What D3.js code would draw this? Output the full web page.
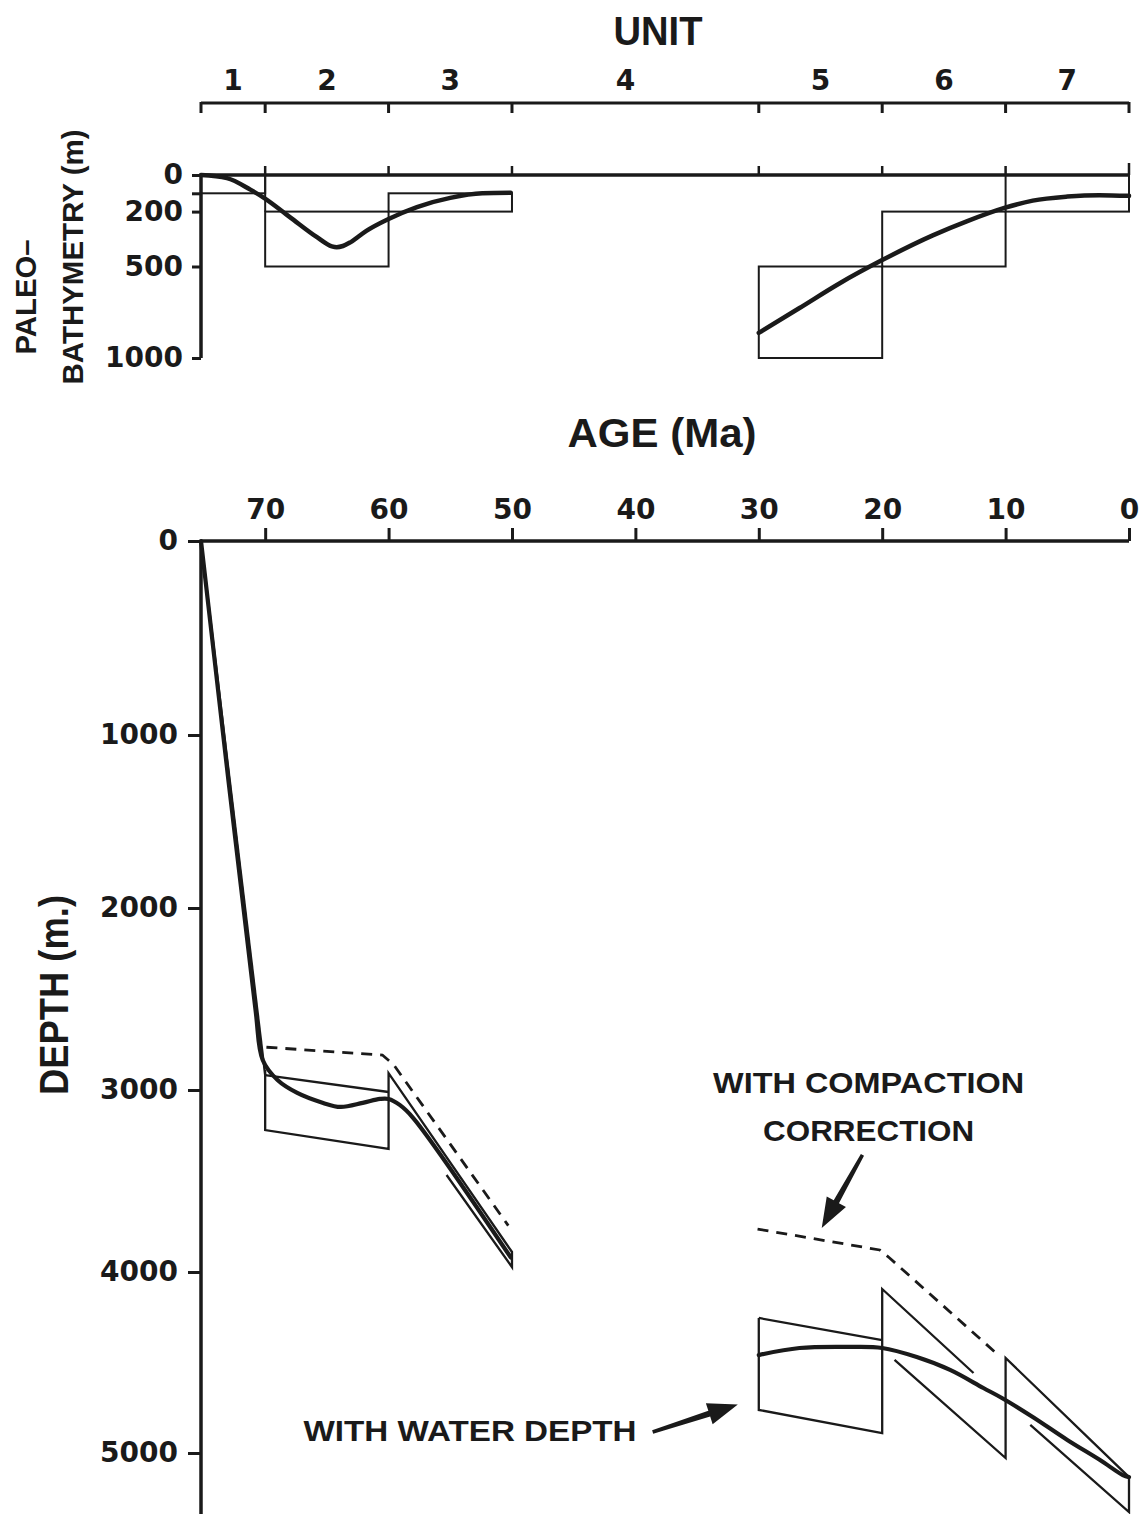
<!DOCTYPE html>
<html><head><meta charset="utf-8">
<script src="https://cdn.jsdelivr.net/npm/d3@7"></script>
<style>body{margin:0;background:#fff}</style>
</head><body>
<script>
// ---------------- data ----------------
const unitNames = ["1","2","3","4","5","6","7"];
const unitBoundaryAges = [75.2, 70, 60, 50, 30, 20, 10, 0];
const unitLabelAges = [72.6, 65, 55, 40.8, 25, 15, 5];
const unitBathyShallow = [0, 200, 100, null, 500, 200, 0];
const unitBathyDeep = [100, 500, 200, null, 1000, 500, 200];
const bathyTicks = [0, 100, 200, 500, 1000];
const bathyTickLabels = ["0", "", "200", "500", "1000"];
const bathyCurveA = [[75.2,0],[73.1,17],[71.2,80],[70.1,125],[68,230],[65.8,340],[64.6,390],[64.2,395],[63.7,388],[63.1,368],[61.8,305],[60,240],[57.7,175],[55,125],[52.4,100],[50.1,97]];
const bathyCurveB = [[30,863],[26.7,727],[23.4,590],[20,465],[15.9,330],[13.1,252],[10.1,180],[7.8,140],[5,118],[2.4,110],[0,114]];

const ageTicks = [70, 60, 50, 40, 30, 20, 10, 0];
const depthTicks = [0, 1000, 2000, 3000, 4000, 5000];

const waterDepthA = [[75.2,0],[70.8,2549],[70.2,2835],[69,2945],[67.4,3016],[65.3,3071],[63.9,3093],[62.1,3071],[60.7,3049],[60,3049],[59.1,3082],[58,3154],[50.1,3920]];
const waterDepthB = [[30,4459],[26.7,4420],[22.6,4414],[20,4420],[17.2,4470],[14.5,4541],[11.8,4641],[10.3,4696],[7.8,4801],[5,4928],[2.35,5039],[0.5,5122],[0,5133]];
const compactionA = [[69.9,2765],[60.5,2808],[59.6,2860],[50.3,3745]];
const compactionB = [[30.1,3764],[20.2,3879],[19.4,3923],[10.9,4440]];
const envelopeLines = [
  [[75.2,0],[70,2918]],
  [[70,2890],[70,3220],[60,3324],[60,2907],[50,3890],[50,3973],[55.3,3467]],
  [[70,2918],[60,3011]],
  [[30,4254],[30,4762],[20,4890],[20,4094],[12.6,4558]],
  [[30,4254],[20,4376]],
  [[19,4486],[10,5028],[10,4475],[0,5133],[0,5326],[8,4845]]
];
const annotations = [
  {text:"WITH COMPACTION", age:21.1, depth:2956, len:311},
  {text:"CORRECTION", age:21.1, depth:3220, len:211},
  {text:"WITH WATER DEPTH", age:53.4, depth:4873, len:333}
];
const arrows = [
  {from:[21.6,3357], to:[24.9,3758]},
  {from:[38.6,4884], to:[31.7,4732]}
];

// ---------------- drawing ----------------
const W = 1147, H = 1514;
const svg = d3.select("body").append("svg").attr("width", W).attr("height", H)
  .style("font-family", "'DejaVu Sans', sans-serif");

const x = d3.scaleLinear().domain([75.2, 0]).range([201, 1129]);
const yTop = d3.scaleLinear().domain([0, 1000]).range([175, 358]);
const y = d3.scaleLinear().domain(depthTicks).range([541, 735, 908, 1090, 1272, 1453]);

const ink = "#1a1a1a";
const tickFont = 28;

// ---- Top panel: unit axis ----
const gUnit = svg.append("g");
gUnit.append("line").attr("x1", x(75.2)).attr("x2", x(0)).attr("y1", 103).attr("y2", 103)
  .attr("stroke", ink).attr("stroke-width", 3);
gUnit.selectAll("line.ut").data(unitBoundaryAges).join("line").attr("class","ut")
  .attr("x1", d => x(d)).attr("x2", d => x(d)).attr("y1", 102).attr("y2", 113)
  .attr("stroke", ink).attr("stroke-width", 3);
gUnit.selectAll("text").data(unitNames).join("text")
  .attr("x", (d, i) => x(unitLabelAges[i])).attr("y", 90)
  .attr("text-anchor", "middle").attr("font-size", tickFont).attr("font-weight", "bold")
  .attr("fill", ink).text(d => d);

svg.append("text").attr("x", 658).attr("y", 45).attr("text-anchor", "middle")
  .attr("font-family", "'Liberation Sans', Arial, sans-serif").attr("font-weight", "bold")
  .attr("font-size", 40).attr("textLength", 89).attr("lengthAdjust", "spacingAndGlyphs")
  .attr("fill", ink).text("UNIT");

// ---- Top panel: bathymetry ----
const gTop = svg.append("g");
gTop.append("line").attr("x1", x(75.2)).attr("x2", x(0)).attr("y1", yTop(0)).attr("y2", yTop(0))
  .attr("stroke", ink).attr("stroke-width", 3.5);
gTop.selectAll("line.zt").data(unitBoundaryAges.slice(1)).join("line").attr("class","zt")
  .attr("x1", d => x(d)).attr("x2", d => x(d)).attr("y1", yTop(0)).attr("y2", d => d === 0 ? 163 : 166)
  .attr("stroke", ink).attr("stroke-width", 2.5);
gTop.append("line").attr("x1", x(75.2)).attr("x2", x(75.2)).attr("y1", yTop(0)).attr("y2", yTop(1000))
  .attr("stroke", ink).attr("stroke-width", 3.5);
const yTopAxis = d3.axisLeft(yTop).tickValues(bathyTicks).tickSize(9).tickPadding(9)
  .tickFormat((d, i) => bathyTickLabels[i]);
const gYT = gTop.append("g").attr("transform", `translate(${x(75.2)},0)`).call(yTopAxis);
gYT.select(".domain").remove();
gYT.selectAll(".tick line").attr("stroke", ink).attr("stroke-width", 3);
gYT.selectAll(".tick text").attr("font-size", tickFont).attr("font-weight", "bold")
  .attr("font-family", "'DejaVu Sans', sans-serif").attr("fill", ink);

// unit bathymetry ranges
unitNames.forEach((u, i) => {
  if (unitBathyShallow[i] === null) return;
  gTop.append("rect")
    .attr("x", x(unitBoundaryAges[i])).attr("y", yTop(unitBathyShallow[i]))
    .attr("width", x(unitBoundaryAges[i + 1]) - x(unitBoundaryAges[i]))
    .attr("height", yTop(unitBathyDeep[i]) - yTop(unitBathyShallow[i]))
    .attr("fill", "none").attr("stroke", ink).attr("stroke-width", 2);
});
// connector where unit-2 box joins unit-1 box
gTop.append("line").attr("x1", x(70)).attr("x2", x(70)).attr("y1", yTop(0)).attr("y2", yTop(200))
  .attr("stroke", ink).attr("stroke-width", 2);

const lineTop = d3.line().x(d => x(d[0])).y(d => yTop(d[1])).curve(d3.curveMonotoneX);
[bathyCurveA, bathyCurveB].forEach(c => gTop.append("path").attr("d", lineTop(c))
  .attr("fill", "none").attr("stroke", ink).attr("stroke-width", 4.5).attr("stroke-linecap", "round"));

// axis titles (top)
svg.append("text").attr("transform", "translate(36,297) rotate(-90)").attr("text-anchor", "middle")
  .attr("font-family", "'Liberation Sans', Arial, sans-serif").attr("font-weight", "bold")
  .attr("font-size", 30).attr("textLength", 115).attr("lengthAdjust", "spacingAndGlyphs")
  .attr("fill", ink).text("PALEO–");
svg.append("text").attr("transform", "translate(83,257) rotate(-90)").attr("text-anchor", "middle")
  .attr("font-family", "'Liberation Sans', Arial, sans-serif").attr("font-weight", "bold")
  .attr("font-size", 30).attr("textLength", 255).attr("lengthAdjust", "spacingAndGlyphs")
  .attr("fill", ink).text("BATHYMETRY (m)");

svg.append("text").attr("x", 662).attr("y", 447).attr("text-anchor", "middle")
  .attr("font-family", "'Liberation Sans', Arial, sans-serif").attr("font-weight", "bold")
  .attr("font-size", 40).attr("textLength", 189).attr("lengthAdjust", "spacingAndGlyphs")
  .attr("fill", ink).text("AGE (Ma)");

// ---- Bottom panel ----
const gB = svg.append("g");
const xAxis = d3.axisTop(x).tickValues(ageTicks).tickSize(13).tickSizeOuter(0).tickPadding(9);
const gX = gB.append("g").attr("transform", `translate(0,${y(0)})`).call(xAxis);
gX.select(".domain").remove();
gX.selectAll(".tick line").attr("stroke", ink).attr("stroke-width", 3);
gX.selectAll(".tick text").attr("font-size", tickFont).attr("font-weight", "bold")
  .attr("font-family", "'DejaVu Sans', sans-serif").attr("fill", ink);
gB.append("line").attr("x1", x(75.2)).attr("x2", x(0)).attr("y1", y(0)).attr("y2", y(0))
  .attr("stroke", ink).attr("stroke-width", 3.5);

const yAxis = d3.axisLeft(y).tickValues(depthTicks).tickSize(13).tickPadding(10).tickFormat(d3.format("d"));
const gY = gB.append("g").attr("transform", `translate(${x(75.2)},0)`).call(yAxis);
gY.select(".domain").remove();
gY.selectAll(".tick line").attr("stroke", ink).attr("stroke-width", 3);
gY.selectAll(".tick text").attr("font-size", tickFont).attr("font-weight", "bold")
  .attr("font-family", "'DejaVu Sans', sans-serif").attr("fill", ink);
gB.append("line").attr("x1", x(75.2)).attr("x2", x(75.2)).attr("y1", y(0)).attr("y2", H)
  .attr("stroke", ink).attr("stroke-width", 3.5);

svg.append("text").attr("transform", "translate(68,995) rotate(-90)").attr("text-anchor", "middle")
  .attr("font-family", "'Liberation Sans', Arial, sans-serif").attr("font-weight", "bold")
  .attr("font-size", 40).attr("textLength", 200).attr("lengthAdjust", "spacingAndGlyphs")
  .attr("fill", ink).text("DEPTH (m.)");

const lineLin = d3.line().x(d => x(d[0])).y(d => y(d[1]));
const lineSmooth = d3.line().x(d => x(d[0])).y(d => y(d[1])).curve(d3.curveCatmullRom.alpha(0.5));

envelopeLines.forEach(l => gB.append("path").attr("d", lineLin(l))
  .attr("fill", "none").attr("stroke", ink).attr("stroke-width", 2.3).attr("stroke-linejoin", "miter"));
[compactionA, compactionB].forEach(l => gB.append("path").attr("d", lineLin(l))
  .attr("fill", "none").attr("stroke", ink).attr("stroke-width", 2.8).attr("stroke-dasharray", "11,8"));
[waterDepthA, waterDepthB].forEach(l => gB.append("path").attr("d", lineSmooth(l))
  .attr("fill", "none").attr("stroke", ink).attr("stroke-width", 4.2).attr("stroke-linecap", "round"));

annotations.forEach(a => gB.append("text").attr("x", x(a.age)).attr("y", y(a.depth) + 11)
  .attr("text-anchor", "middle").attr("font-family", "'Liberation Sans', Arial, sans-serif")
  .attr("font-weight", "bold").attr("font-size", 30).attr("textLength", a.len)
  .attr("lengthAdjust", "spacingAndGlyphs").attr("fill", ink).text(a.text));

arrows.forEach(a => {
  const x0 = x(a.from[0]), y0 = y(a.from[1]), x1 = x(a.to[0]), y1 = y(a.to[1]);
  const dx = x1 - x0, dy = y1 - y0, L = Math.hypot(dx, dy);
  const ux = dx / L, uy = dy / L, px = -uy, py = ux;
  const headL = 30, headW = 11, shaftW = 3;
  const bx = x1 - ux * headL, by = y1 - uy * headL;
  const pts = [
    [x0 + px * shaftW * 0.6, y0 + py * shaftW * 0.6],
    [bx + px * shaftW, by + py * shaftW],
    [bx + px * headW, by + py * headW],
    [x1, y1],
    [bx - px * headW, by - py * headW],
    [bx - px * shaftW, by - py * shaftW],
    [x0 - px * shaftW * 0.6, y0 - py * shaftW * 0.6]
  ];
  gB.append("path").attr("d", "M" + pts.map(p => p.join(",")).join("L") + "Z").attr("fill", ink);
});
</script>
</body></html>
